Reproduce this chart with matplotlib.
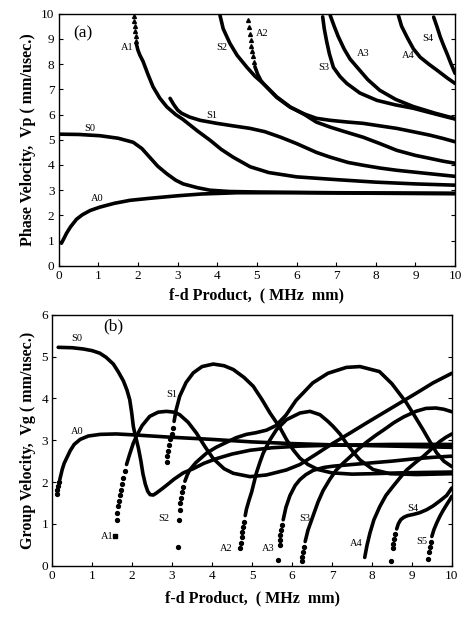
import matplotlib
matplotlib.use('Agg')
import matplotlib.pyplot as plt

SERIF = ['Liberation Serif', 'DejaVu Serif']
LW = 2.6
BLACK = '#000000'

X_TICKS = list(range(0, 11))
PH_Y_TICKS = list(range(0, 11))
GR_Y_TICKS = list(range(0, 7))

# ---- (a) phase velocity curves, (fd, Vp) ----
PH_A0 = [(0.07, 0.9), (0.12, 1.05), (0.2, 1.3), (0.3, 1.55), (0.45, 1.85), (0.6, 2.03), (0.8, 2.2),
         (1.04, 2.33), (1.4, 2.48), (1.8, 2.6), (2.3, 2.68), (3.0, 2.78), (3.6, 2.85), (4.5, 2.9),
         (6.0, 2.9), (8.0, 2.88), (10.0, 2.86)]
PH_S0 = [(0.05, 5.22), (0.5, 5.21), (1.04, 5.16), (1.5, 5.06), (1.88, 4.9), (2.1, 4.65), (2.3, 4.3),
         (2.5, 3.95), (2.73, 3.65), (2.95, 3.4), (3.14, 3.25), (3.5, 3.1), (3.82, 3.0), (4.3, 2.95),
         (5.0, 2.93), (7.0, 2.9), (10.0, 2.88)]
PH_A1_DOTS = [(1.90, 9.92), (1.91, 9.72), (1.92, 9.52), (1.93, 9.32), (1.94, 9.12), (1.95, 8.92)]
PH_A1 = [(1.96, 8.8), (2.0, 8.55), (2.05, 8.35), (2.13, 8.1), (2.25, 7.6), (2.38, 7.1), (2.55, 6.65),
         (2.73, 6.3), (2.95, 6.0), (3.14, 5.8), (3.5, 5.35), (3.82, 4.98), (4.1, 4.62), (4.4, 4.31),
         (4.83, 3.93), (5.3, 3.7), (6.0, 3.53), (7.0, 3.42), (8.0, 3.32), (9.0, 3.25), (10.0, 3.2)]
PH_S1 = [(2.81, 6.64), (2.9, 6.4), (3.0, 6.18), (3.1, 6.05), (3.3, 5.9), (3.57, 5.77), (3.99, 5.65),
         (4.4, 5.55), (4.83, 5.45), (5.2, 5.32), (5.6, 5.1), (6.0, 4.85), (6.5, 4.5), (6.85, 4.31),
         (7.3, 4.1), (7.68, 3.99), (8.1, 3.88), (8.53, 3.79), (9.2, 3.68), (10.0, 3.55)]
PH_S2 = [(4.07, 9.93), (4.15, 9.4), (4.32, 8.82), (4.5, 8.35), (4.75, 7.87), (4.95, 7.52), (5.16, 7.23),
         (5.5, 6.68), (5.84, 6.29), (6.2, 6.02), (6.5, 5.85), (6.85, 5.77), (7.3, 5.7), (7.68, 5.65),
         (8.1, 5.55), (8.53, 5.45), (9.0, 5.3), (9.37, 5.18), (9.7, 5.05), (10.0, 4.92)]
PH_A2_DOTS = [(4.78, 9.74), (4.8, 9.45), (4.82, 9.2), (4.84, 8.95), (4.86, 8.7), (4.88, 8.5),
              (4.9, 8.3), (4.92, 8.1)]
PH_A2 = [(4.95, 7.9), (5.02, 7.6), (5.1, 7.35), (5.16, 7.23), (5.5, 6.7), (5.84, 6.3), (6.2, 6.0),
         (6.5, 5.7), (6.85, 5.5), (7.3, 5.28), (7.68, 5.1), (8.1, 4.85), (8.53, 4.58), (9.0, 4.38),
         (9.37, 4.26), (9.7, 4.15), (10.0, 4.07)]
PH_S3 = [(6.66, 9.87), (6.7, 9.4), (6.76, 8.9), (6.83, 8.4), (6.93, 7.87), (7.1, 7.5), (7.27, 7.23),
         (7.6, 6.85), (8.03, 6.56), (8.5, 6.38), (8.94, 6.25), (9.5, 6.02), (10.0, 5.82)]
PH_A3 = [(6.85, 9.93), (6.95, 9.5), (7.05, 9.1), (7.2, 8.6), (7.35, 8.2), (7.53, 7.87), (7.8, 7.38),
         (8.1, 6.96), (8.5, 6.6), (8.94, 6.32), (9.5, 6.05), (10.0, 5.84)]
PH_A4 = [(8.57, 9.93), (8.65, 9.5), (8.79, 9.06), (8.95, 8.6), (9.12, 8.27), (9.35, 7.98), (9.55, 7.75),
         (9.8, 7.45), (10.0, 7.23)]
PH_S4 = [(9.46, 9.86), (9.55, 9.45), (9.63, 9.06), (9.72, 8.7), (9.8, 8.4), (9.9, 8.0), (10.0, 7.63)]

PH_LABELS = [('A0', 0.96, 2.67), ('S0', 0.79, 5.45), ('A1', 1.72, 8.67), ('S1', 3.86, 5.97),
             ('S2', 4.12, 8.67), ('A2', 5.13, 9.2), ('S3', 6.68, 7.87), ('A3', 7.69, 8.4),
             ('A4', 8.82, 8.35), ('S4', 9.3, 9.0)]

# ---- (b) group velocity curves, (fd, Vg) ----
GR_A0_DOTS = [(0.12, 1.72), (0.13, 1.8), (0.15, 1.9), (0.17, 2.0)]
GR_A0 = [(0.19, 2.06), (0.25, 2.3), (0.3, 2.45), (0.36, 2.57), (0.45, 2.75), (0.55, 2.9), (0.7, 3.02),
         (0.9, 3.1), (1.2, 3.14), (1.6, 3.15), (2.0, 3.13), (2.5, 3.1), (3.0, 3.07), (4.0, 3.02),
         (5.0, 2.96), (6.0, 2.92), (7.0, 2.89), (8.0, 2.87), (9.0, 2.85), (10.0, 2.83)]
GR_S0 = [(0.15, 5.22), (0.5, 5.21), (0.78, 5.18), (1.0, 5.14), (1.19, 5.08), (1.35, 4.98), (1.53, 4.82),
         (1.65, 4.64), (1.78, 4.42), (1.87, 4.2), (1.94, 3.97), (1.99, 3.65), (2.03, 3.33), (2.07, 3.15),
         (2.11, 3.0), (2.16, 2.8), (2.22, 2.5), (2.27, 2.2), (2.33, 1.95), (2.39, 1.78), (2.45, 1.7),
         (2.53, 1.69), (2.61, 1.74), (2.75, 1.84), (2.87, 1.93), (3.05, 2.07), (3.28, 2.22), (3.53, 2.32),
         (3.8, 2.45), (4.11, 2.56), (4.5, 2.67), (4.95, 2.76), (5.5, 2.82), (6.2, 2.86), (7.0, 2.88),
         (8.5, 2.9), (10.0, 2.9)]
GR_A1_DOTS = [(1.61, 1.1), (1.63, 1.27), (1.65, 1.42), (1.67, 1.55), (1.69, 1.68), (1.72, 1.82),
              (1.75, 1.96), (1.78, 2.1), (1.82, 2.26)]
GR_A1_START = [(1.57, 0.7)]
GR_A1 = [(1.86, 2.42), (1.94, 2.67), (2.03, 2.93), (2.11, 3.1), (2.25, 3.35), (2.44, 3.57), (2.65, 3.67),
         (2.86, 3.69), (3.05, 3.67), (3.19, 3.61), (3.4, 3.43), (3.61, 3.17), (3.82, 2.85), (4.03, 2.56),
         (4.3, 2.32), (4.53, 2.21), (4.95, 2.13), (5.36, 2.17), (5.86, 2.29), (6.2, 2.42), (6.61, 2.67),
         (7.03, 2.93), (7.45, 3.17), (7.86, 3.41), (8.28, 3.65), (8.7, 3.89), (9.12, 4.13), (9.53, 4.37),
         (10.0, 4.6)]
GR_S1_DOTS = [(2.86, 2.49), (2.88, 2.62), (2.9, 2.75), (2.93, 2.88), (2.96, 3.02), (2.99, 3.16), (3.02, 3.3)]
GR_S1 = [(3.05, 3.45), (3.1, 3.72), (3.19, 4.05), (3.35, 4.38), (3.53, 4.61), (3.75, 4.76), (4.03, 4.82),
         (4.3, 4.78), (4.53, 4.69), (4.8, 4.5), (5.03, 4.29), (5.25, 3.97), (5.45, 3.65), (5.7, 3.3),
         (5.86, 3.02), (6.03, 2.77), (6.2, 2.57), (6.4, 2.42), (6.65, 2.3), (7.0, 2.22), (7.5, 2.19),
         (8.0, 2.2), (8.7, 2.22), (9.3, 2.23), (10.0, 2.24)]
GR_S2_DOTS = [(3.16, 0.46), (3.18, 1.1), (3.19, 1.34), (3.21, 1.5), (3.23, 1.63), (3.25, 1.76), (3.28, 1.89)]
GR_S2 = [(3.32, 2.02), (3.38, 2.17), (3.44, 2.29), (3.6, 2.47), (3.86, 2.69), (4.1, 2.83), (4.36, 2.95),
         (4.6, 3.06), (4.86, 3.14), (5.1, 3.18), (5.36, 3.24), (5.6, 3.35), (5.85, 3.6), (6.1, 3.95),
         (6.52, 4.37), (6.9, 4.6), (7.36, 4.74), (7.7, 4.76), (8.19, 4.64), (8.5, 4.35), (8.86, 3.9),
         (9.07, 3.58), (9.28, 3.25), (9.45, 2.97), (9.62, 2.7), (9.8, 2.5), (10.0, 2.37)]
GR_A2_DOTS = [(4.7, 0.42), (4.72, 0.55), (4.74, 0.68), (4.76, 0.81), (4.78, 0.93), (4.8, 1.05)]
GR_A2 = [(4.83, 1.2), (4.86, 1.35), (4.92, 1.55), (4.99, 1.76), (5.11, 2.22), (5.2, 2.48), (5.28, 2.69),
         (5.45, 3.01), (5.61, 3.25), (5.86, 3.49), (6.2, 3.65), (6.45, 3.69), (6.7, 3.61), (6.9, 3.45),
         (7.03, 3.33), (7.2, 3.15), (7.36, 2.93), (7.53, 2.72), (7.7, 2.53), (8.03, 2.3), (8.45, 2.2),
         (9.12, 2.18), (10.0, 2.2)]
GR_A3_DOTS = [(5.65, 0.15), (5.69, 0.5), (5.7, 0.62), (5.71, 0.74), (5.73, 0.86), (5.75, 0.98)]
GR_A3 = [(5.78, 1.1), (5.85, 1.4), (5.95, 1.68), (6.08, 1.92), (6.2, 2.06), (6.35, 2.18), (6.53, 2.28),
         (6.8, 2.35), (7.03, 2.38), (7.5, 2.42), (8.0, 2.46), (8.5, 2.5), (9.0, 2.55), (9.5, 2.59), (10.0, 2.62)]
GR_S3_DOTS = [(6.24, 0.12), (6.26, 0.22), (6.28, 0.33), (6.3, 0.45)]
GR_S3 = [(6.33, 0.58), (6.4, 0.85), (6.53, 1.2), (6.65, 1.52), (6.78, 1.8), (6.95, 2.07), (7.11, 2.29),
         (7.3, 2.47), (7.45, 2.6), (7.65, 2.78), (7.86, 2.95), (8.1, 3.12), (8.3, 3.25), (8.55, 3.42),
         (8.8, 3.56), (9.1, 3.69), (9.35, 3.76), (9.6, 3.77), (9.8, 3.74), (10.0, 3.68)]
GR_A4 = [(7.82, 0.2), (7.88, 0.5), (7.95, 0.78), (8.05, 1.1), (8.2, 1.42), (8.35, 1.68), (8.53, 1.9),
         (8.7, 2.1), (8.87, 2.29), (9.08, 2.46), (9.28, 2.61), (9.5, 2.8), (9.7, 2.97), (9.85, 3.07), (10.0, 3.15)]
GR_S4_DOTS = [(8.49, 0.12), (8.52, 0.42), (8.54, 0.53), (8.56, 0.64), (8.59, 0.76)]
GR_S4 = [(8.62, 0.88), (8.66, 1.0), (8.72, 1.1), (8.8, 1.16), (8.9, 1.2), (9.05, 1.23), (9.2, 1.27),
         (9.37, 1.34), (9.53, 1.43), (9.7, 1.55), (9.87, 1.68), (10.0, 1.86)]
GR_S5_DOTS = [(9.41, 0.16), (9.43, 0.32), (9.45, 0.45), (9.47, 0.57)]
GR_S5 = [(9.5, 0.7), (9.55, 0.86), (9.62, 1.02), (9.7, 1.18), (9.78, 1.32), (9.87, 1.46), (9.95, 1.58),
         (10.0, 1.66)]

GR_LABELS = [('S0', 0.61, 5.44), ('A0', 0.63, 3.2), ('S1', 3.0, 4.09), ('A1', 1.38, 0.69),
             ('S2', 2.8, 1.14), ('A2', 4.36, 0.42), ('A3', 5.4, 0.42), ('S3', 6.32, 1.14),
             ('A4', 7.61, 0.54), ('S4', 9.03, 1.38), ('S5', 9.24, 0.58)]


def line(ax, pts):
    xs = [p[0] for p in pts]
    ys = [p[1] for p in pts]
    ax.plot(xs, ys, color=BLACK, lw=LW, solid_capstyle='round', solid_joinstyle='round')


def dots(ax, pts, marker='o', ms=2.8):
    xs = [p[0] for p in pts]
    ys = [p[1] for p in pts]
    ax.plot(xs, ys, ls='none', marker=marker, ms=ms, color=BLACK, mec=BLACK)


def style_axes(ax, yticks, ylabel):
    ax.set_xlim(0, 10)
    ax.set_ylim(yticks[0], yticks[-1])
    ax.set_xticks(X_TICKS)
    ax.set_yticks(yticks)
    ax.tick_params(direction='in', length=3, width=0.8, labelsize=9.5, pad=3,
                   right=True, top=False)
    for lab in ax.get_xticklabels() + ax.get_yticklabels():
        lab.set_family(SERIF)
    for sp in ax.spines.values():
        sp.set_linewidth(1.0)
    ax.set_xlabel('f-d Product,  ( MHz  mm)', family=SERIF, fontweight='bold', fontsize=11.5, labelpad=6)
    ax.set_ylabel(ylabel, family=SERIF, fontweight='bold', fontsize=11.5, labelpad=4)


fig = plt.figure(figsize=(4.62, 6.17), dpi=100)
fig.patch.set_facecolor('white')

ax1 = fig.add_axes([0.127, 0.569, 0.858, 0.409])
for pts in [PH_A0, PH_S0, PH_A1, PH_S1, PH_S2, PH_A2, PH_S3, PH_A3, PH_A4, PH_S4]:
    line(ax1, pts)
dots(ax1, PH_A1_DOTS, marker='^', ms=2.8)
dots(ax1, PH_A2_DOTS, marker='^', ms=2.8)
for txt, x, y in PH_LABELS:
    ax1.text(x, y, txt, family=SERIF, fontsize=7.5, ha='center', va='center')
ax1.text(0.62, 9.2, '(a)', family=SERIF, fontsize=12.5, ha='center', va='center')
style_axes(ax1, PH_Y_TICKS, 'Phase Velocity,  Vp ( mm/usec.)')
ax1.xaxis.set_label_coords(0.5, -0.085)

ax2 = fig.add_axes([0.113, 0.083, 0.865, 0.407])
for pts in [GR_A0, GR_S0, GR_A1, GR_S1, GR_S2, GR_A2, GR_A3, GR_S3, GR_A4, GR_S4, GR_S5]:
    line(ax2, pts)
for pts in [GR_A0_DOTS, GR_A1_DOTS, GR_S1_DOTS, GR_S2_DOTS, GR_A2_DOTS, GR_A3_DOTS,
            GR_S3_DOTS, GR_S4_DOTS, GR_S5_DOTS]:
    dots(ax2, pts)
dots(ax2, GR_A1_START, marker='s', ms=3)
for txt, x, y in GR_LABELS:
    ax2.text(x, y, txt, family=SERIF, fontsize=7.5, ha='center', va='center')
ax2.text(1.53, 5.72, '(b)', family=SERIF, fontsize=12.5, ha='center', va='center')
style_axes(ax2, GR_Y_TICKS, 'Group Velocity,  Vg ( mm/usec.)')

fig.savefig('out.png', dpi=100, facecolor='white')
